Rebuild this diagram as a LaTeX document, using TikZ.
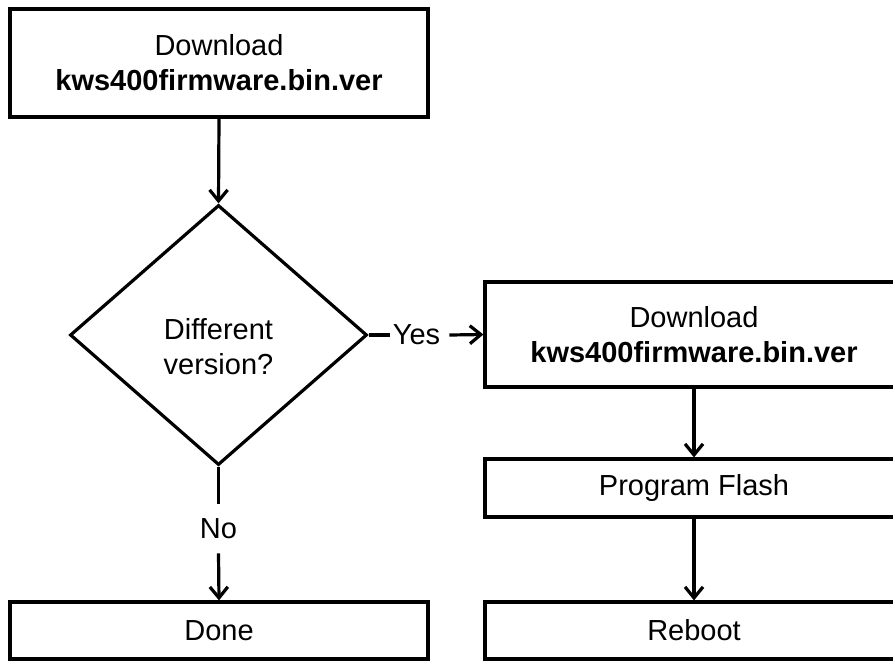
\documentclass[tikz,border=0pt]{standalone}
\usepackage{fontspec}
\setmainfont{Liberation Sans}
\usetikzlibrary{arrows.meta,shapes}

\begin{document}
\begin{tikzpicture}[x=1pt,y=-1pt,
    box/.style={draw, line width=3.2pt, minimum width=418pt, inner sep=0pt,
      align=center, font=\fontsize{29}{35}\selectfont},
    decision/.style={diamond, draw, line width=3.2pt, minimum width=297pt,
      minimum height=260pt, inner sep=0pt},
    tag/.style={inner sep=0pt, align=center, font=\fontsize{29}{35}\selectfont},
    wire/.style={line width=3.2pt},
    flow/.style={line width=3.2pt, -{Straight Barb[length=11pt,width=18pt,line width=3.2pt]}}]
    \clip (0,0) rectangle (893,662);
    % left column
    \node[box, minimum height=108pt] (getver) at (219,63) {Download\\\textbf{kws400firmware.bin.ver}};
    \node[decision] (differs) at (218.5,335) {};
    \node[tag] (question) at (218.5,347) {Different\\version?};
    \node[tag] (no) at (218.5,529) {No};
    \node[box, minimum height=57pt] (done) at (219,630.5) {Done};
    % right column
    \node[tag] (yes) at (416.5,335) {Yes};
    \node[box, minimum height=105pt] (getbin) at (694,334.5) {Download\\\textbf{kws400firmware.bin.ver}};
    \node[box, minimum height=58pt] (flash) at (694,488) {Program Flash};
    \node[box, minimum height=57pt] (reboot) at (694,630.5) {Reboot};
    % connectors
    \draw[flow] (getver.south) -- (differs.north);
    \draw[wire] (differs.east) -- ([xshift=-3pt]yes.west);
    \draw[flow] ([xshift=9pt]yes.east) -- (getbin.west);
    \draw[wire] (differs.south) -- ([yshift=15pt]no.north);
    \draw[flow] ([yshift=-14pt]no.south) -- (done.north);
    \draw[flow] (getbin.south) -- (flash.north);
    \draw[flow] (flash.south) -- (reboot.north);
\end{tikzpicture}
\end{document}
